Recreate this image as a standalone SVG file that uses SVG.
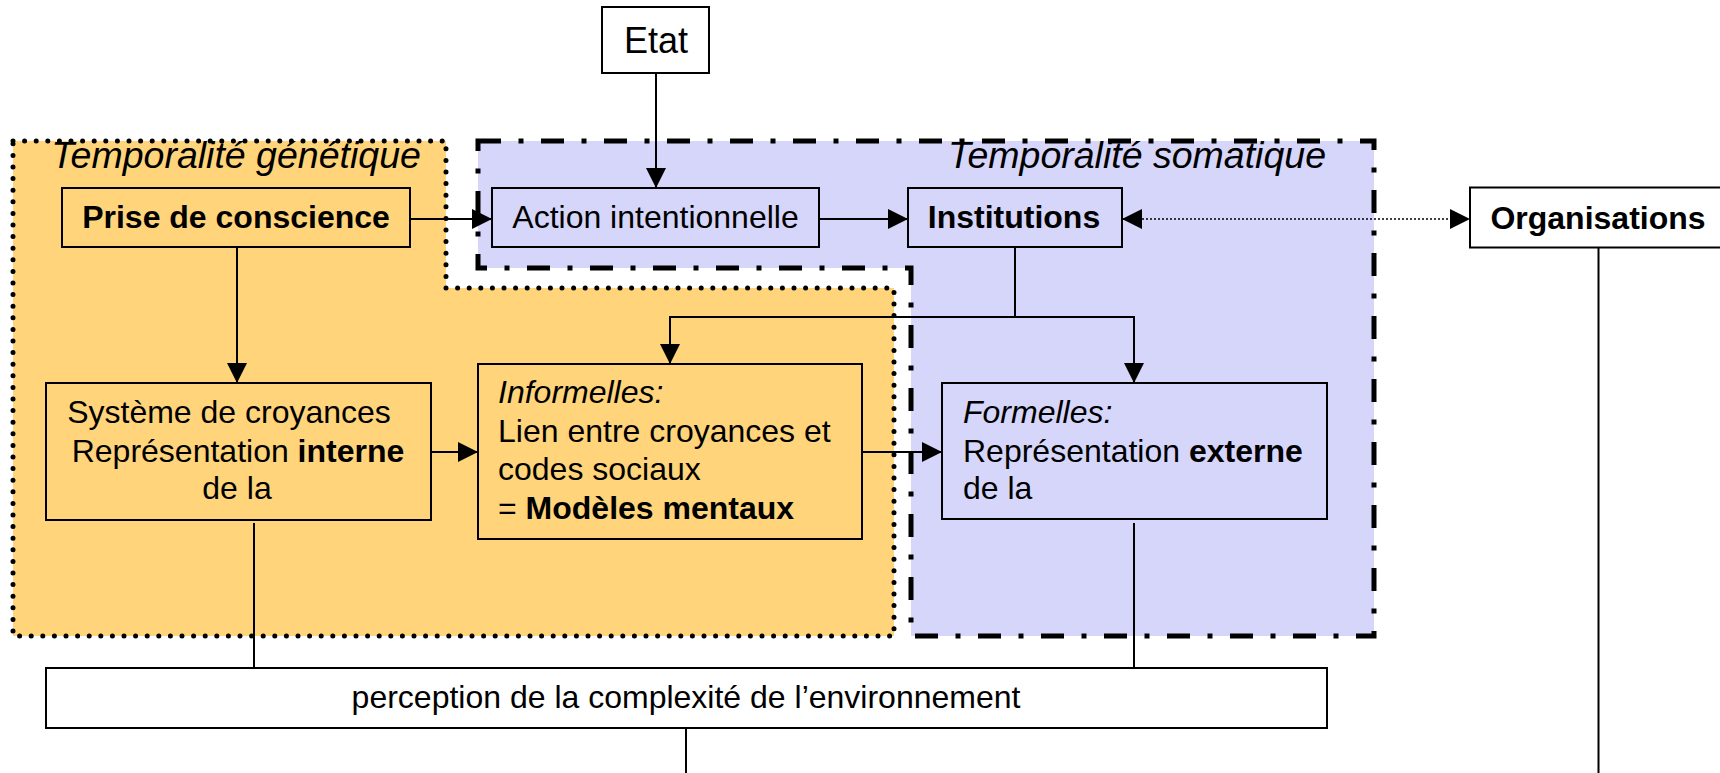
<svg xmlns="http://www.w3.org/2000/svg" width="1720" height="773" viewBox="0 0 1720 773">
<defs>
<style>
text{font-family:"Liberation Sans",Arial,sans-serif;font-size:32px;fill:#000}
.b{font-weight:bold}
.i{font-style:italic}
.t{font-style:italic;font-size:37.5px}
.box{fill:none;stroke:#000;stroke-width:2}
.wbox{fill:#fff;stroke:#000;stroke-width:2}
.ln{fill:none;stroke:#000;stroke-width:2}
.dot{fill:none;stroke:#000;stroke-width:1.5;stroke-dasharray:2 2}
.reg-g{fill:#FFD47A}
.reg-s{fill:#D6D6FB}
.bd-g{fill:none;stroke:#000;stroke-width:5;stroke-linecap:round;stroke-dasharray:0 11.6}
.bd-s{fill:none;stroke:#000;stroke-width:5;stroke-dasharray:23 17.5 5 17.5}
</style>
<marker id="ah" markerUnits="userSpaceOnUse" markerWidth="20" markerHeight="20" refX="20" refY="10" orient="auto-start-reverse">
<path d="M0,0 L20,10 L0,20 z" fill="#000"/>
</marker>
</defs>
<rect width="1720" height="773" fill="#fff"/>
<g id="temporalite-genetique">
<path class="reg-g" d="M13,141 H446 V288 H894 V636 H13 Z"/>
<path class="bd-g" d="M13,141 H446 V288 H894 V636 H13 Z"/>
<text class="t" x="236" y="168" text-anchor="middle">Temporalité génétique</text>
</g>
<g id="temporalite-somatique">
<path class="reg-s" d="M478,141 H1374 V636 H911 V268 H478 Z"/>
<path class="bd-s" d="M478,141 H1374 V636 H911 V268 H478 Z"/>
<text class="t" x="1137" y="168" text-anchor="middle">Temporalité somatique</text>
</g>
<g id="connectors">
<path class="ln" d="M656,73 V188" marker-end="url(#ah)"/>
<path class="ln" d="M410,219 H492" marker-end="url(#ah)"/>
<path class="ln" d="M819,219 H908" marker-end="url(#ah)"/>
<path class="dot" d="M1122,219 H1470" marker-start="url(#ah)" marker-end="url(#ah)"/>
<path class="ln" d="M237,247 V383" marker-end="url(#ah)"/>
<path class="ln" d="M430,452 H478" marker-end="url(#ah)"/>
<path class="ln" d="M862,452 H942" marker-end="url(#ah)"/>
<path class="ln" d="M1015,247 V317 H670 V364" marker-end="url(#ah)"/>
<path class="ln" d="M1015,317 H1134 V383" marker-end="url(#ah)"/>
<path class="ln" d="M254,523 V668"/>
<path class="ln" d="M1134,523 V668"/>
<path class="ln" d="M686,728 V773"/>
<path class="ln" d="M1598.5,248 V773"/>
</g>
<g id="etat">
<rect class="wbox" x="602" y="7" width="107" height="66"/>
<text x="656" y="53" text-anchor="middle" style="font-size:36px">Etat</text>
</g>
<g id="prise-de-conscience">
<rect class="box" x="62" y="188" width="348" height="59"/>
<text class="b" x="236" y="228" text-anchor="middle">Prise de conscience</text>
</g>
<g id="action-intentionnelle">
<rect class="box" x="492" y="188" width="327" height="59"/>
<text x="655.5" y="228" text-anchor="middle">Action intentionnelle</text>
</g>
<g id="institutions">
<rect class="box" x="908" y="188" width="214" height="59"/>
<text class="b" x="1014" y="228" text-anchor="middle">Institutions</text>
</g>
<g id="organisations">
<rect class="wbox" x="1470" y="187.5" width="270" height="60"/>
<text class="b" x="1598" y="228.5" text-anchor="middle">Organisations</text>
</g>
<g id="systeme-de-croyances">
<rect class="box" x="46" y="383" width="385" height="137"/>
<text x="229" y="423" text-anchor="middle">Système de croyances</text>
<text x="238" y="461.5" text-anchor="middle">Représentation <tspan class="b">interne</tspan></text>
<text x="237" y="499" text-anchor="middle">de la</text>
</g>
<g id="informelles">
<rect class="box" x="478" y="364" width="384" height="175"/>
<text class="i" x="498" y="403">Informelles:</text>
<text x="498" y="441.5">Lien entre croyances et</text>
<text x="498" y="480">codes sociaux</text>
<text x="498" y="518.5">= <tspan class="b">Modèles mentaux</tspan></text>
</g>
<g id="formelles">
<rect class="box" x="942" y="383" width="385" height="136"/>
<text class="i" x="963" y="423">Formelles:</text>
<text x="963" y="461.5">Représentation <tspan class="b">externe</tspan></text>
<text x="963" y="498.5">de la</text>
</g>
<g id="perception">
<rect class="wbox" x="46" y="668" width="1281" height="60"/>
<text x="686" y="708" text-anchor="middle">perception de la complexité de l’environnement</text>
</g>
</svg>
